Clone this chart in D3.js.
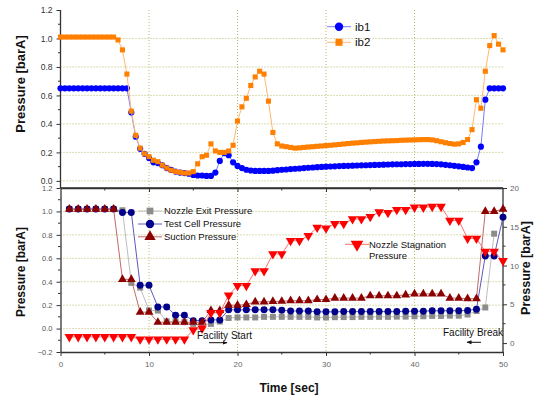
<!DOCTYPE html>
<html>
<head>
<meta charset="utf-8">
<script src="https://cdn.jsdelivr.net/npm/d3@7"></script>
<style>
  html, body { margin: 0; padding: 0; background: #fff; }
  svg { display: block; font-family: Arial, "Liberation Sans", sans-serif; }
</style>
</head>
<body>
<svg id="chart" width="536" height="401"></svg>
<script>
// ---- data ----
// upper panel: sampled every 0.5 s from 0 to 50 s
const timeTop = d3.range(0, 50.001, 0.5);
const ib1 = [
  0.65,0.65,0.65,0.65,0.65,0.65,0.65,0.65,0.65,0.65,0.65,0.65,0.65,0.65,0.65,0.65,
  0.48,0.31,0.225,0.19,0.16,0.13,0.125,0.11,0.09,0.077,0.065,0.058,0.055,0.05,0.042,0.038,
  0.038,0.035,0.035,0.058,0.14,0.195,0.18,0.13,0.105,0.09,0.078,0.073,0.07,0.07,0.07,0.07,
  0.072,0.075,0.078,0.08,0.083,0.085,0.087,0.09,0.092,0.094,0.096,0.098,0.1,0.101,0.102,0.104,
  0.105,0.106,0.107,0.108,0.109,0.11,0.111,0.112,0.113,0.114,0.115,0.116,0.117,0.117,0.118,0.118,
  0.119,0.119,0.12,0.12,0.119,0.118,0.116,0.113,0.11,0.106,0.102,0.098,0.094,0.09,0.13,0.24,
  0.57,0.65,0.65,0.65,0.65
];
const ib2 = [
  1.01,1.01,1.01,1.01,1.01,1.01,1.01,1.01,1.01,1.01,1.01,1.01,1.01,
  0.99,0.92,0.75,0.49,0.32,0.23,0.19,0.17,0.145,0.135,0.11,0.09,0.075,0.065,0.06,0.055,0.055,
  0.065,0.12,0.17,0.18,0.26,0.21,0.2,0.2,0.21,0.25,0.42,0.52,0.58,0.67,0.73,0.77,0.75,0.56,
  0.34,0.26,0.245,0.24,0.235,0.23,0.232,0.235,0.238,0.24,0.243,0.245,0.248,0.25,0.253,0.256,
  0.259,0.262,0.265,0.267,0.27,0.272,0.274,0.276,0.278,0.28,0.281,0.282,0.283,0.285,0.286,0.287,
  0.288,0.289,0.29,0.29,0.288,0.282,0.275,0.268,0.262,0.258,0.26,0.27,0.29,0.36,0.57,0.51,
  0.77,0.95,1.02,0.96,0.92
];

// lower panel: sampled every 1 s from 1 to 50 s
const timeBottom = d3.range(1, 51, 1);
const nozzleExit = [
  1.02,1.02,1.02,1.02,1.02,1.02,1.01,0.39,0.35,0.154,
  0.154,0.062,0.062,0.055,0.04,0.035,0.04,0.06,0.09,0.095,
  0.095,0.095,0.1,0.1,0.1,0.1,0.1,0.1,0.095,0.095,
  0.097,0.098,0.098,0.1,0.1,0.1,0.1,0.102,0.102,0.105,
  0.105,0.108,0.108,0.11,0.11,0.12,0.15,0.18,0.81,null
];
const testCell = [
  1.02,1.02,1.02,1.02,1.02,1.02,0.99,0.99,0.37,0.37,
  0.185,0.185,0.114,0.114,0.068,0.068,0.074,0.074,0.16,0.16,
  0.16,0.16,0.16,0.16,0.157,0.15,0.15,0.15,0.143,0.143,
  0.143,0.145,0.145,0.145,0.145,0.145,0.145,0.145,0.148,0.148,
  0.148,0.152,0.152,0.152,0.152,0.155,0.165,0.62,0.62,0.95
];
const suction = [
  1.02,1.02,1.02,1.02,1.02,1.02,0.42,0.42,0.14,0.14,
  0.054,0.054,0.054,0.054,0.054,0.054,0.154,0.154,0.2,0.2,
  0.205,0.228,0.228,0.232,0.233,0.238,0.238,0.238,0.248,0.248,
  0.26,0.26,0.26,0.26,0.28,0.28,0.28,0.28,0.288,0.296,
  0.296,0.296,0.296,0.26,0.26,0.255,0.255,1.0,1.0,1.02
];
const stagnation = [
  0.8,0.8,0.8,0.8,0.8,0.8,0.8,0.8,0.5,0.5,
  0.5,0.5,0.5,0.5,1.7,1.9,3.9,3.9,6.15,7.4,
  7.4,9.3,9.3,11.5,11.5,13.2,13.2,13.85,14.9,14.8,
  15.4,15.4,16.0,16.0,16.3,16.9,16.8,17.2,17.2,17.5,
  17.5,17.6,17.6,15.8,15.8,13.5,13.5,11.8,11.8,10.6
];

const xTicks = [0, 10, 20, 30, 40, 50];
const topYTicks = [0.0, 0.2, 0.4, 0.6, 0.8, 1.0, 1.2];
const botYTicks = [-0.2, 0.0, 0.2, 0.4, 0.6, 0.8, 1.0, 1.2];
const rightTicks = [0, 5, 10, 15, 20];

// ---- layout ----
const svg = d3.select("#chart");
const xL = 60.5, xR = 503;
const topT = 10, topB = 188;
const botT = 188, botB = 352;

const x = d3.scaleLinear().domain([0, 50]).range([xL, xR]);
const yTop = d3.scaleLinear().domain([-0.05, 1.2]).range([topB, topT]);
const yBot = d3.scaleLinear().domain([-0.2, 1.2]).range([botB, botT]);
const yRight = d3.scaleLinear().domain([-1.15, 20]).range([botB, botT]);

const gridColor = "#b9b96a";
const axisColor = "#333";

function fmt1(v) { return d3.format(".1f")(v); }

// ---- grids ----
function grid(g, yScale, yVals, y0, y1) {
  g.selectAll("line.h").data(yVals).join("line")
    .attr("x1", xL).attr("x2", xR)
    .attr("y1", d => yScale(d)).attr("y2", d => yScale(d))
    .attr("stroke", gridColor).attr("stroke-width", 1).attr("stroke-dasharray", "1,2");
  g.selectAll("line.v").data([10, 20, 30, 40]).join("line").attr("class", "v")
    .attr("x1", d => x(d)).attr("x2", d => x(d))
    .attr("y1", y0).attr("y2", y1)
    .attr("stroke", gridColor).attr("stroke-width", 1).attr("stroke-dasharray", "1,2");
}
const gTopGrid = svg.append("g");
grid(gTopGrid, yTop, [0, 0.2, 0.4, 0.6, 0.8, 1.0], topT, topB);
const gBotGrid = svg.append("g");
grid(gBotGrid, yBot, [0, 0.2, 0.4, 0.6, 0.8, 1.0], botT, botB);

// ---- axes ----
function styleAxis(g, fontSize, color) {
  g.select(".domain").attr("stroke", axisColor).attr("stroke-width", 1.3);
  g.selectAll(".tick line").attr("stroke", axisColor).attr("stroke-width", 1);
  g.selectAll(".tick text").attr("fill", color).style("font-size", fontSize + "px")
    .style("font-family", "Arial, 'Liberation Sans', sans-serif");
}
function minorTicks(g, vals, scale, orient, pos, len) {
  g.selectAll(null).data(vals).join("line")
    .attr("stroke", axisColor).attr("stroke-width", 1)
    .each(function(d) {
      const s = d3.select(this);
      if (orient === "left") s.attr("x1", pos).attr("x2", pos - len).attr("y1", scale(d)).attr("y2", scale(d));
      if (orient === "right") s.attr("x1", pos).attr("x2", pos + len).attr("y1", scale(d)).attr("y2", scale(d));
      if (orient === "bottom") s.attr("y1", pos).attr("y2", pos + len).attr("x1", scale(d)).attr("x2", scale(d));
    });
}

// upper panel left axis
const gTopLeft = svg.append("g").attr("transform", `translate(${xL},0)`)
  .call(d3.axisLeft(yTop).tickValues(topYTicks).tickFormat(fmt1).tickSize(4).tickPadding(4).tickSizeOuter(0));
styleAxis(gTopLeft, 8.5, "#333");
gTopLeft.select(".domain").attr("d", `M0,${topT}V${topB}`);
minorTicks(svg.append("g"), [0.1, 0.3, 0.5, 0.7, 0.9, 1.1], yTop, "left", xL, 2.5);

// upper panel bottom axis line (ticks only)
const gTopBottom = svg.append("g").attr("transform", `translate(0,${topB})`)
  .call(d3.axisBottom(x).tickValues([10, 20, 30, 40]).tickFormat("").tickSize(4).tickSizeOuter(0));
styleAxis(gTopBottom, 8, "#555");
minorTicks(svg.append("g"), [5, 15, 25, 35, 45], x, "bottom", topB, 2.5);

// lower panel axes
const gBotLeft = svg.append("g").attr("transform", `translate(${xL},0)`)
  .call(d3.axisLeft(yBot).tickValues(botYTicks).tickFormat(fmt1).tickSize(4).tickPadding(4).tickSizeOuter(0));
styleAxis(gBotLeft, 7.5, "#555");
minorTicks(svg.append("g"), [-0.1, 0.1, 0.3, 0.5, 0.7, 0.9, 1.1], yBot, "left", xL, 2.5);

const gBotX = svg.append("g").attr("transform", `translate(0,${botB})`)
  .call(d3.axisBottom(x).tickValues(xTicks).tickFormat(d3.format("d")).tickSize(4).tickPadding(5).tickSizeOuter(0));
styleAxis(gBotX, 8, "#666");
minorTicks(svg.append("g"), [5, 15, 25, 35, 45], x, "bottom", botB, 2.5);

const gRight = svg.append("g").attr("transform", `translate(${xR},0)`)
  .call(d3.axisRight(yRight).tickValues(rightTicks).tickFormat(d3.format("d")).tickSize(4).tickPadding(3).tickSizeOuter(0));
styleAxis(gRight, 8, "#666");
gRight.select(".domain").attr("d", `M0,${botT}V${botB}`);
minorTicks(svg.append("g"), [2.5, 7.5, 12.5, 17.5], yRight, "right", xR, 2.5);

// lower panel top border
svg.append("line").attr("x1", xL).attr("x2", xR).attr("y1", botT).attr("y2", botT)
  .attr("stroke", axisColor).attr("stroke-width", 1.3);

// ---- series drawing ----
function drawSeries(times, vals, xs, ys, lineColor, markColor, symbol, size, rotate) {
  const pts = times.map((t, i) => ({ t, v: vals[i] })).filter(d => d.v !== null);
  const g = svg.append("g");
  g.append("path").datum(pts)
    .attr("d", d3.line().x(d => xs(d.t)).y(d => ys(d.v)))
    .attr("fill", "none").attr("stroke", lineColor).attr("stroke-width", 1);
  g.selectAll("path.m").data(pts).join("path").attr("class", "m")
    .attr("d", d3.symbol().type(symbol).size(size))
    .attr("transform", d => `translate(${xs(d.t)},${ys(d.v)})` + (rotate ? " rotate(180)" : ""))
    .attr("fill", markColor);
}

// upper panel
drawSeries(timeTop, ib1, x, yTop, "#7a7aff", "#0000ff", d3.symbolCircle, 30, false);
drawSeries(timeTop, ib2, x, yTop, "#ffb86e", "#ff8000", d3.symbolSquare, 26, false);

// lower panel
drawSeries(timeBottom, nozzleExit, x, yBot, "#bdbdbd", "#8c8c8c", d3.symbolSquare, 36, false);
drawSeries(timeBottom, testCell, x, yBot, "#5b5bbd", "#00008b", d3.symbolCircle, 38, false);
drawSeries(timeBottom, suction, x, yBot, "#c06a6a", "#8b0000", d3.symbolTriangle, 34, false);
drawSeries(timeBottom, stagnation, x, yRight, "#ff7070", "#ff0000", d3.symbolTriangle, 40, true);

// ---- legends ----
function legendItem(lx, ly, lineColor, markColor, symbol, size, rotate, label, fontSize, textX) {
  svg.append("line").attr("x1", lx - 12).attr("x2", lx + 12).attr("y1", ly).attr("y2", ly)
    .attr("stroke", lineColor).attr("stroke-width", 1);
  svg.append("path").attr("d", d3.symbol().type(symbol).size(size)())
    .attr("transform", `translate(${lx},${ly})` + (rotate ? " rotate(180)" : ""))
    .attr("fill", markColor);
  const t = svg.append("text").attr("x", textX).attr("y", ly)
    .attr("dy", "0.35em").style("font-size", fontSize + "px").attr("fill", "#111");
  t.text(label);
  return t;
}
legendItem(339, 26.7, "#7a7aff", "#0000ff", d3.symbolCircle, 55, false, "ib1", 11.5, 355);
legendItem(339, 42.3, "#ffb86e", "#ff8000", d3.symbolSquare, 50, false, "ib2", 11.5, 355);

legendItem(150, 211, "#bdbdbd", "#8c8c8c", d3.symbolSquare, 45, false, "Nozzle Exit Pressure", 9.5, 164);
legendItem(150, 224, "#5b5bbd", "#00008b", d3.symbolCircle, 55, false, "Test Cell Pressure", 9.5, 164);
legendItem(150, 236.8, "#c06a6a", "#8b0000", d3.symbolTriangle, 55, false, "Suction Pressure", 9.5, 164);

const stag = legendItem(357, 244.3, "#ff7070", "#ff0000", d3.symbolTriangle, 70, true, "Nozzle Stagnation", 9.5, 369);
svg.append("text").attr("x", 369).attr("y", 255.5).attr("dy", "0.35em")
  .style("font-size", "9.5px").attr("fill", "#111").text("Pressure");

// ---- annotations ----
svg.append("defs").append("marker").attr("id", "ah").attr("viewBox", "0 0 10 10")
  .attr("refX", 9).attr("refY", 5).attr("markerWidth", 5).attr("markerHeight", 5).attr("orient", "auto")
  .append("path").attr("d", "M0,1 L10,5 L0,9 Z").attr("fill", "#111");

svg.append("text").attr("x", 197).attr("y", 335).attr("dy", "0.35em")
  .style("font-size", "10px").attr("fill", "#111").text("Facility Start");
svg.append("line").attr("x1", 209).attr("x2", 227).attr("y1", 342.7).attr("y2", 342.7)
  .attr("stroke", "#111").attr("stroke-width", 1).attr("marker-end", "url(#ah)");

svg.append("text").attr("x", 443).attr("y", 332.3).attr("dy", "0.35em")
  .style("font-size", "10px").attr("fill", "#111").text("Facility Break");
svg.append("line").attr("x1", 481).attr("x2", 467).attr("y1", 342.3).attr("y2", 342.3)
  .attr("stroke", "#111").attr("stroke-width", 1).attr("marker-end", "url(#ah)");

// ---- axis titles ----
function vTitle(cx, cy, rot, label, size) {
  svg.append("text").attr("transform", `translate(${cx},${cy}) rotate(${rot})`)
    .attr("text-anchor", "middle").attr("dy", "0.35em")
    .style("font-size", size + "px").style("font-weight", "bold").attr("fill", "#111").text(label);
}
vTitle(20, 84, -90, "Pressure [barA]", 13);
vTitle(21, 272, -90, "Pressure [barA]", 12);
vTitle(526, 268, -90, "Pressure [barA]", 12.5);

svg.append("text").attr("x", 289).attr("y", 388).attr("text-anchor", "middle").attr("dy", "0.35em")
  .style("font-size", "12px").style("font-weight", "bold").attr("fill", "#111").text("Time [sec]");
</script>
</body>
</html>
